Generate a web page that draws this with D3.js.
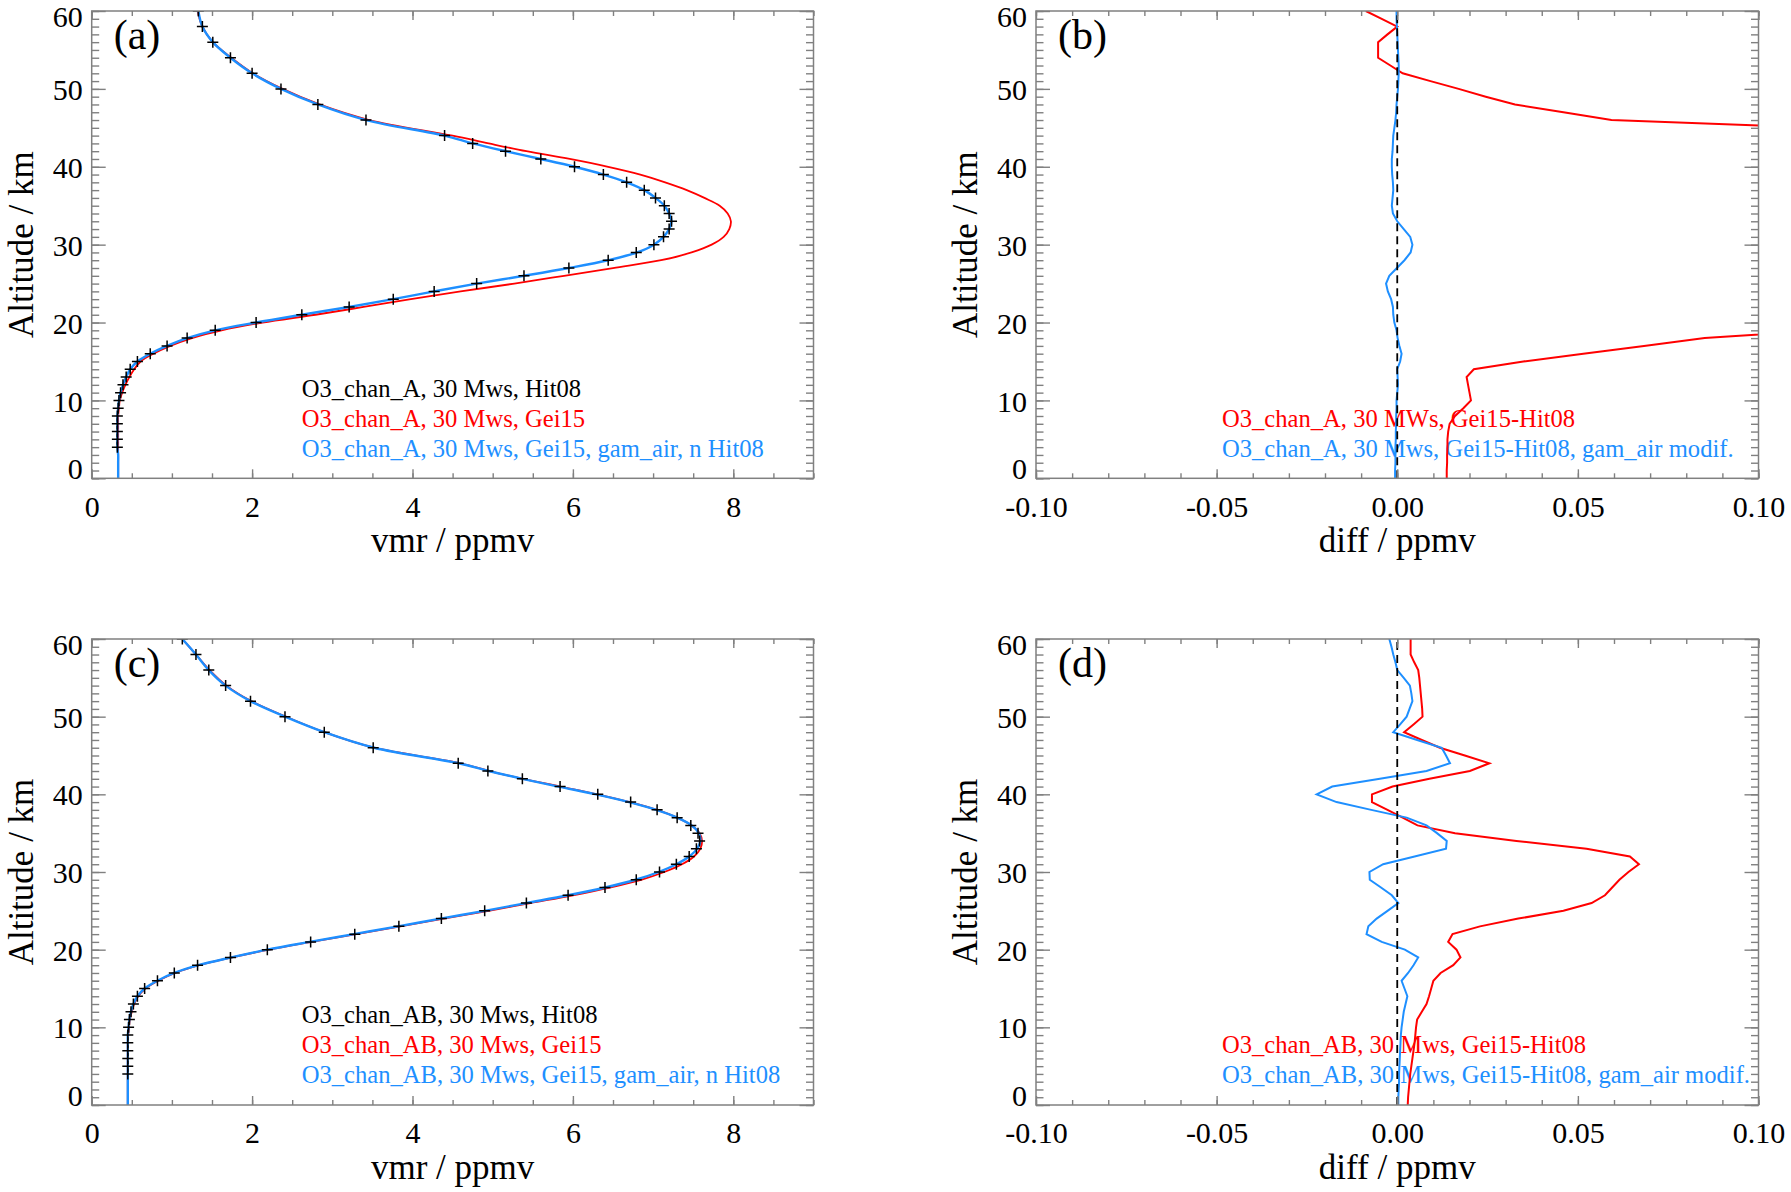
<!DOCTYPE html>
<html>
<head>
<meta charset="utf-8">
<script src="https://cdn.jsdelivr.net/npm/d3@7"></script>
<style>
  body { margin: 0; background: #fff; }
  text { font-family: "Liberation Serif", "Times New Roman", serif; }
</style>
</head>
<body>
<div id="chart"></div>
<script>
// ---- data ----------------------------------------------------------------
// altitude grid (km) of the profile lines in (a) and (c)
const profAlt = [0,1,2,3,4,5,6,7,8,9,10,11,12,13,14,15,16,17,18,19,20,21,22,23,24,25,26,27,28,29,
  30,31,32,33,34,35,36,37,38,39,40,41,42,43,44,46,48,50,52,54,56,58,60];
// altitudes of the Hit08 "+" markers
const markAlt = [4,5,6,7,8,9,10,11,12,13,14,15,16,17,18,19,20,21,22,23,24,25,26,27,28,29,
  30,31,32,33,34,35,36,37,38,39,40,41,42,43,44,46,48,50,52,54,56,58,60];
// altitude grid of the difference profiles in (b) and (d)
const diffAlt = [0,1,2,3,4,5,6,7,8,9,10,11,12,13,14,15,16,17,18,19,20,21,22,23,24,25,26,27,28,29,
  30,31,32,33,34,35,36,37,38,39,40,41,42,43,44,45,46,47,48,49,50,51,52,53,54,55,56,57,58,59,60];

// (a) O3_chan_A, vmr / ppmv
const hitA = [0.32,0.32,0.32,0.32,0.32,0.33,
  0.34,0.36,0.39,0.43,0.48,0.57,0.73,0.94,1.19,1.54,
  2.05,2.62,3.21,3.76,4.27,4.80,5.39,5.95,6.44,6.79,
  7.01,7.13,7.20,7.23,7.20,7.14,7.03,6.89,6.67,6.38,
  6.02,5.60,5.16,4.75,4.40,
  3.42,2.82,2.36,2.00,1.73,1.51,1.38,1.33];
const gei15A = [0.33,0.33,0.33,0.33,0.33,0.33,0.33,0.33,0.33,0.34,
  0.35,0.38,0.42,0.47,0.53,0.61,0.77,0.98,1.25,1.62,
  2.13,2.79,3.39,3.98,4.60,5.27,5.89,6.50,7.10,7.48,
  7.73,7.88,7.95,7.97,7.93,7.83,7.64,7.42,7.15,6.84,
  6.44,5.96,5.42,4.95,4.50,
  3.46,2.84,2.38,2.01,1.74,1.51,1.38,1.32];
const gamA = [0.33,0.33,0.33,0.33,0.32,0.32,0.32,0.32,0.32,0.33,
  0.34,0.36,0.39,0.43,0.48,0.57,0.73,0.94,1.19,1.54,
  2.05,2.62,3.21,3.76,4.27,4.80,5.39,5.95,6.44,6.80,
  7.01,7.13,7.20,7.23,7.20,7.14,7.03,6.89,6.67,6.38,
  6.02,5.60,5.16,4.75,4.40,
  3.42,2.82,2.36,2.00,1.73,1.51,1.38,1.33];

// (c) O3_chan_AB, vmr / ppmv
const hitAB = [0.45,0.45,0.45,0.45,0.45,0.45,
  0.46,0.47,0.49,0.52,0.57,0.66,0.82,1.03,1.32,1.73,
  2.19,2.73,3.28,3.83,4.36,4.90,5.42,5.94,6.40,6.79,
  7.08,7.29,7.45,7.54,7.58,7.56,7.47,7.30,7.05,6.72,
  6.31,5.84,5.37,4.94,4.57,
  3.51,2.90,2.41,1.98,1.67,1.46,1.30,1.13];
const gei15AB = [0.45,0.45,0.45,0.45,0.45,0.45,0.45,0.45,0.45,0.455,
  0.465,0.475,0.50,0.53,0.58,0.67,0.83,1.04,1.34,1.75,
  2.21,2.74,3.30,3.85,4.39,4.95,5.47,6.00,6.46,6.85,
  7.14,7.36,7.51,7.59,7.61,7.58,7.48,7.30,7.05,6.71,
  6.30,5.84,5.38,4.96,4.60,
  3.52,2.90,2.42,1.99,1.68,1.47,1.30,1.13];
const gamAB = [0.45,0.45,0.45,0.45,0.45,0.45,0.45,0.45,0.45,0.45,
  0.46,0.47,0.49,0.52,0.57,0.66,0.82,1.03,1.33,1.74,
  2.19,2.72,3.27,3.82,4.35,4.90,5.42,5.94,6.40,6.78,
  7.07,7.29,7.45,7.55,7.59,7.57,7.48,7.30,7.04,6.70,
  6.29,5.82,5.37,4.95,4.58,
  3.52,2.90,2.41,1.98,1.67,1.46,1.30,1.13];

// (b) differences O3_chan_A, ppmv (red runs off scale between ~19 and ~45 km)
const diffGeiA = [0.0137,0.0137,0.0138,0.0138,0.0139,0.0139,0.0141,0.0145,0.0160,0.0183,
  0.0204,0.0200,0.0196,0.0192,0.0212,0.0349,0.0515,0.0683,0.0851,0.118,
  0.19,0.28,0.36,0.42,0.47,0.52,0.56,0.60,0.66,0.72,
  0.74,0.76,0.76,0.75,0.73,0.70,0.62,0.53,0.48,0.46,
  0.42,0.36,0.26,0.20,0.18,0.117,0.0593,0.046,0.0326,0.0245,
  0.0170,0.0092,0.0015,-0.0019,-0.0053,-0.0053,-0.0053,-0.0027,0.0000,-0.0043,-0.0087];
const diffGamA = [-0.0006,-0.0006,-0.0005,-0.0005,-0.0005,-0.0004,-0.0004,-0.0003,-0.0003,-0.0002,
  -0.0002,0.0000,0.0002,0.0001,0.0000,0.0008,0.0012,0.0006,0.0001,-0.0002,
  -0.0008,-0.0011,-0.0012,-0.0017,-0.0026,-0.0031,-0.0022,-0.0001,0.0020,0.0037,
  0.0042,0.0036,0.0018,0.0000,-0.0012,-0.0015,-0.0013,-0.0011,-0.0012,-0.0014,
  -0.0015,-0.0015,-0.0013,-0.0012,-0.0011,-0.0008,-0.0005,-0.0003,-0.0002,0.0000,
  0.0002,0.0003,0.0004,0.0004,0.0003,0.0002,0.0001,0.0000,-0.0001,-0.0002,-0.0002];

// (d) differences O3_chan_AB, ppmv
const diffGeiAB = [0.0029,0.0030,0.0032,0.0034,0.0036,0.0039,0.0042,0.0045,0.0048,0.0050,
  0.0052,0.0055,0.0068,0.0081,0.0088,0.0094,0.0100,0.0120,0.0155,0.0175,
  0.0164,0.0141,0.0153,0.0229,0.0335,0.0460,0.0538,0.0575,0.0595,0.0615,
  0.0640,0.0669,0.0644,0.0524,0.0330,0.0160,0.0056,0.0015,-0.0027,-0.0070,
  -0.0070,-0.0013,0.0089,0.0201,0.0255,0.0187,0.0118,0.0068,0.0019,0.0045,
  0.0070,0.0069,0.0067,0.0065,0.0063,0.0061,0.0058,0.0047,0.0037,0.0037,0.0037];
const diffGamAB = [0.0003,0.0003,0.0004,0.0005,0.0005,0.0006,0.0007,0.0008,0.0009,0.0010,
  0.0012,0.0015,0.0018,0.0023,0.0028,0.0020,0.0012,0.0030,0.0045,0.0058,
  0.0021,-0.0043,-0.0085,-0.0080,-0.0057,-0.0027,0.0003,-0.0015,-0.0045,-0.0076,
  -0.0077,-0.0039,0.0048,0.0135,0.0137,0.0110,0.0081,0.0026,-0.0072,-0.0168,
  -0.0223,-0.0180,-0.0048,0.0081,0.0146,0.0135,0.0123,0.0055,-0.0011,0.0008,
  0.0026,0.0034,0.0042,0.0039,0.0035,0.0018,0.0000,-0.0005,-0.0011,-0.0016,-0.0022];

// ticks
const altTicks = [0,10,20,30,40,50,60];
const vmrTicks = [0,2,4,6,8];
const diffTicks = [-0.1,-0.05,0,0.05,0.1];
const diffTickLabels = ['-0.10','-0.05','0.00','0.05','0.10'];

// ---- drawing ---------------------------------------------------------------
const RED = '#ff0000', BLUE = '#1e8fff', GREY = '#808080';
const W = 1791, H = 1192;

const svg = d3.select('#chart').append('svg')
  .attr('width', W).attr('height', H);

const zip = (alts, vals) => alts.map((a, i) => ({alt: a, v: vals[i]}));

const panels = [
  {tag: '(a)', left: 91.7, right: 813.5, top: 11, bottom: 478.3, kind: 'vmr',
   legend: [['O3_chan_A, 30 Mws, Hit08', '#000'], ['O3_chan_A, 30 Mws, Gei15', RED],
            ['O3_chan_A, 30 Mws, Gei15, gam_air, n Hit08', BLUE]],
   hit: hitA, gei: gei15A, gam: gamA},
  {tag: '(b)', left: 1036, right: 1758.5, top: 11, bottom: 478.3, kind: 'diff',
   legend: [['O3_chan_A, 30 MWs, Gei15-Hit08', RED],
            ['O3_chan_A, 30 Mws, Gei15-Hit08, gam_air modif.', BLUE]],
   gei: diffGeiA, gam: diffGamA},
  {tag: '(c)', left: 91.7, right: 813.5, top: 639, bottom: 1105, kind: 'vmr',
   legend: [['O3_chan_AB, 30 Mws, Hit08', '#000'], ['O3_chan_AB, 30 Mws, Gei15', RED],
            ['O3_chan_AB, 30 Mws, Gei15, gam_air, n Hit08', BLUE]],
   hit: hitAB, gei: gei15AB, gam: gamAB},
  {tag: '(d)', left: 1036, right: 1758.5, top: 639, bottom: 1105, kind: 'diff',
   legend: [['O3_chan_AB, 30 Mws, Gei15-Hit08', RED],
            ['O3_chan_AB, 30 Mws, Gei15-Hit08, gam_air modif.', BLUE]],
   gei: diffGeiAB, gam: diffGamAB}
];

function styleAxis(sel) {
  sel.attr('font-size', null).attr('font-family', null);
  sel.select('.domain').remove();
  sel.selectAll('.tick line').attr('stroke', GREY).attr('stroke-width', 1.4);
  sel.selectAll('.tick text').attr('fill', '#000').style('font-size', '30px');
}

panels.forEach((p, pi) => {
  const isVmr = p.kind === 'vmr';
  const g = svg.append('g');

  const x = d3.scaleLinear()
    .domain(isVmr ? [0, 9] : [-0.1, 0.1])
    .range([p.left, p.right]);
  const y = d3.scaleLinear().domain([0, 60]).range([p.bottom, p.top]);

  const xMajor = isVmr ? vmrTicks : diffTicks;
  const xMinor = isVmr ? d3.range(0, 9.01, 0.5) : d3.range(-10, 10.5, 1).map(d => d / 100);
  const yMinor = d3.range(0, 61, 1);
  const xFmt = isVmr ? (d => String(d)) : ((d, i) => diffTickLabels[i]);

  const clipId = 'clip' + pi;
  g.append('clipPath').attr('id', clipId)
    .append('rect')
    .attr('x', p.left).attr('y', p.top)
    .attr('width', p.right - p.left).attr('height', p.bottom - p.top);

  // legend text (drawn under the curves)
  const rows = isVmr ? [81.7, 51.7, 21.7] : [51.7, 21.7];
  g.selectAll('text.legend')
    .data(p.legend)
    .enter().append('text')
    .attr('class', 'legend')
    .attr('x', p.left + (isVmr ? 210 : 186))
    .attr('y', (d, i) => p.bottom - rows[i])
    .style('font-size', '24.6px')
    .attr('fill', d => d[1])
    .text(d => d[0]);

  // curves
  const plot = g.append('g').attr('clip-path', `url(#${clipId})`);
  const line = d3.line()
    .x(d => x(d.v))
    .y(d => y(d.alt))
    .curve(isVmr ? d3.curveCatmullRom : d3.curveLinear);

  const alts = isVmr ? profAlt : diffAlt;
  plot.append('path')
    .datum(zip(alts, p.gei))
    .attr('fill', 'none').attr('stroke', RED).attr('stroke-width', isVmr ? 1.8 : 2)
    .attr('d', line);
  plot.append('path')
    .datum(zip(alts, p.gam))
    .attr('fill', 'none').attr('stroke', BLUE).attr('stroke-width', isVmr ? 2.4 : 2)
    .attr('d', line);

  if (isVmr) {
    plot.selectAll('path.cross')
      .data(zip(markAlt, p.hit))
      .enter().append('path')
      .attr('class', 'cross')
      .attr('transform', d => `translate(${x(d.v)},${y(d.alt)})`)
      .attr('d', 'M-5.5,0H5.5M0,-5.5V5.5')
      .attr('stroke', '#000').attr('stroke-width', 1.5);
  } else {
    plot.append('line')
      .attr('x1', x(0)).attr('x2', x(0))
      .attr('y1', y(0)).attr('y2', y(60))
      .attr('stroke', '#000').attr('stroke-width', 1.8)
      .attr('stroke-dasharray', '8,5');
  }

  // axes: major + minor ticks on all four sides, pointing inward
  const bottomMaj = g.append('g').attr('transform', `translate(0,${p.bottom})`)
    .call(d3.axisBottom(x).tickValues(xMajor).tickSizeInner(-9).tickSizeOuter(0)
      .tickPadding(17).tickFormat(xFmt));
  styleAxis(bottomMaj);
  styleAxis(g.append('g').attr('transform', `translate(0,${p.bottom})`)
    .call(d3.axisBottom(x).tickValues(xMinor).tickSizeInner(-5).tickSizeOuter(0).tickFormat('')));
  styleAxis(g.append('g').attr('transform', `translate(0,${p.top})`)
    .call(d3.axisTop(x).tickValues(xMajor).tickSizeInner(-9).tickSizeOuter(0).tickFormat('')));
  styleAxis(g.append('g').attr('transform', `translate(0,${p.top})`)
    .call(d3.axisTop(x).tickValues(xMinor).tickSizeInner(-5).tickSizeOuter(0).tickFormat('')));

  const leftMaj = g.append('g').attr('transform', `translate(${p.left},0)`)
    .call(d3.axisLeft(y).tickValues(altTicks).tickSizeInner(-14).tickSizeOuter(0)
      .tickPadding(9).tickFormat(d => String(d)));
  styleAxis(leftMaj);
  // end labels sit slightly inside the frame, as in the original
  leftMaj.selectAll('.tick text').attr('y', d => d === 0 ? -9 : (d === 60 ? 6 : 1));
  styleAxis(g.append('g').attr('transform', `translate(${p.left},0)`)
    .call(d3.axisLeft(y).tickValues(yMinor).tickSizeInner(-7.5).tickSizeOuter(0).tickFormat('')));
  styleAxis(g.append('g').attr('transform', `translate(${p.right},0)`)
    .call(d3.axisRight(y).tickValues(altTicks).tickSizeInner(-14).tickSizeOuter(0).tickFormat('')));
  styleAxis(g.append('g').attr('transform', `translate(${p.right},0)`)
    .call(d3.axisRight(y).tickValues(yMinor).tickSizeInner(-7.5).tickSizeOuter(0).tickFormat('')));

  // frame
  g.append('rect')
    .attr('x', p.left).attr('y', p.top)
    .attr('width', p.right - p.left).attr('height', p.bottom - p.top)
    .attr('fill', 'none').attr('stroke', GREY).attr('stroke-width', 1.5);

  // titles
  g.append('text')
    .attr('x', (p.left + p.right) / 2)
    .attr('y', p.bottom + 74)
    .attr('text-anchor', 'middle')
    .style('font-size', '35px')
    .text(isVmr ? 'vmr / ppmv' : 'diff / ppmv');

  g.append('text')
    .attr('transform', `translate(${p.left - 59},${(p.top + p.bottom) / 2}) rotate(-90)`)
    .attr('text-anchor', 'middle')
    .style('font-size', '35px')
    .text('Altitude / km');

  g.append('text')
    .attr('x', p.left + 22)
    .attr('y', p.top + 38)
    .style('font-size', '42px')
    .text(p.tag);
});
</script>
</body>
</html>
